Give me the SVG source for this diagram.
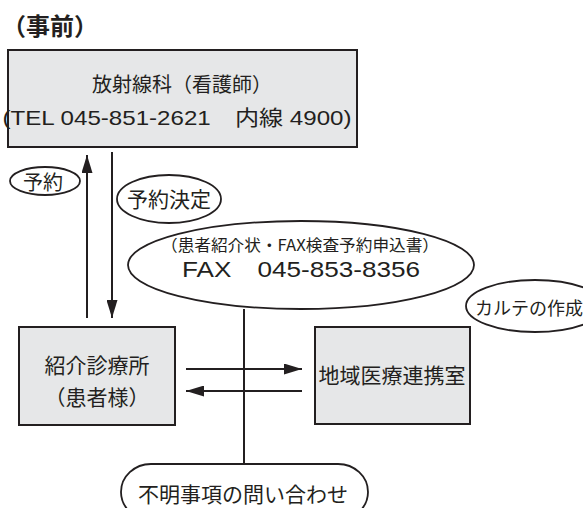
<svg xmlns="http://www.w3.org/2000/svg" width="583" height="508" viewBox="0 0 583 508">
<defs>
<style>
.t{font-family:"Noto Sans CJK JP","Noto Sans",sans-serif;fill:#231f20}
.l{font-family:"Liberation Sans","Noto Sans CJK JP",sans-serif;fill:#231f20}
.box{fill:#e6e7e8;stroke:#231f20;stroke-width:2}
.ov{fill:#fff;stroke:#231f20;stroke-width:1.8}
.ln{fill:none;stroke:#231f20;stroke-width:2}
</style>
<marker id="ah" viewBox="0 0 18 11" refX="18" refY="5.5" markerWidth="18" markerHeight="11" markerUnits="userSpaceOnUse" orient="auto">
<path d="M0,0 L18,5.5 L0,11 Z" fill="#231f20"/>
</marker>
</defs>
<rect width="583" height="508" fill="#fff"/>
<text class="t" x="2" y="35" font-size="24" font-weight="bold">（事前）</text>

<g id="connectors">
<line class="ln" x1="87" y1="318" x2="87" y2="155" marker-end="url(#ah)"/>
<line class="ln" x1="112" y1="152" x2="112" y2="318" marker-end="url(#ah)"/>
<line class="ln" x1="244" y1="309" x2="244" y2="464"/>
<line class="ln" x1="186" y1="369" x2="302" y2="369" marker-end="url(#ah)"/>
<line class="ln" x1="302" y1="391" x2="186" y2="391" marker-end="url(#ah)"/>
</g>

<g id="radiology">
<rect class="box" x="8" y="50" width="349" height="97"/>
<text class="t" x="182" y="92" font-size="20" text-anchor="middle">放射線科（看護師）</text>
<text class="l" x="177" y="125" font-size="21" text-anchor="middle" textLength="349" lengthAdjust="spacingAndGlyphs">(TEL 045-851-2621　内線 4900)</text>
</g>

<g id="label-yoyaku">
<ellipse class="ov" cx="45" cy="181" rx="35" ry="14"/>
<text class="t" x="43" y="190" font-size="20" text-anchor="middle">予約</text>
</g>

<g id="label-kettei">
<ellipse class="ov" cx="169" cy="199" rx="52" ry="24"/>
<text class="t" x="169" y="207" font-size="21" text-anchor="middle">予約決定</text>
</g>

<g id="fax">
<ellipse class="ov" cx="301" cy="265" rx="173" ry="44"/>
<text class="t" x="300" y="251" font-size="16" text-anchor="middle" textLength="278" lengthAdjust="spacingAndGlyphs">（患者紹介状・FAX検査予約申込書）</text>
<text class="l" x="301" y="277" font-size="22" text-anchor="middle" textLength="238" lengthAdjust="spacingAndGlyphs">FAX　045-853-8356</text>
</g>

<g id="label-karte">
<ellipse class="ov" cx="535" cy="306" rx="69" ry="26"/>
<text class="t" x="529" y="315" font-size="18" text-anchor="middle">カルテの作成</text>
</g>

<g id="clinic">
<rect class="box" x="19" y="327" width="156" height="98"/>
<text class="t" x="97" y="373" font-size="21" text-anchor="middle">紹介診療所</text>
<text class="t" x="97" y="405" font-size="21" text-anchor="middle">（患者様）</text>
</g>

<g id="renkei">
<rect class="box" x="315" y="327" width="155" height="97"/>
<text class="t" x="392" y="383" font-size="21" text-anchor="middle">地域医療連携室</text>
</g>

<g id="inquiry">
<rect class="ov" x="121" y="464" width="247" height="56" rx="30" ry="28"/>
<text class="t" x="243" y="502" font-size="21" text-anchor="middle">不明事項の問い合わせ</text>
</g>
</svg>
